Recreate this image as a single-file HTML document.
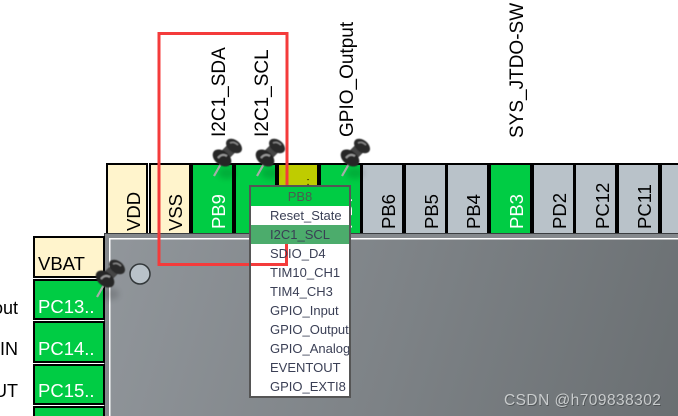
<!DOCTYPE html>
<html><head><meta charset="utf-8"><style>
html,body{margin:0;padding:0;background:#fff;width:678px;height:416px;overflow:hidden}
svg{display:block;font-family:"Liberation Sans",sans-serif}
</style></head><body>
<svg width="678" height="416" viewBox="0 0 678 416" xmlns="http://www.w3.org/2000/svg">
<defs>
<linearGradient id="chip" gradientUnits="userSpaceOnUse" x1="109" y1="238" x2="678" y2="416"><stop offset="0" stop-color="#91969b"/><stop offset="1" stop-color="#6a6f72"/></linearGradient>
<linearGradient id="pinb" x1="0" y1="0" x2="1" y2="1"><stop offset="0" stop-color="#1c1c1c"/><stop offset=".5" stop-color="#808080"/><stop offset="1" stop-color="#1a1a1a"/></linearGradient>
<filter id="b" x="-30%" y="-30%" width="160%" height="160%"><feGaussianBlur stdDeviation="0.6"/></filter>
<filter id="b2" x="-80%" y="-80%" width="260%" height="260%"><feGaussianBlur stdDeviation="3"/></filter>
<g id="pin">
<ellipse cx="13" cy="-3" rx="9" ry="6" fill="#000" opacity=".14" filter="url(#b2)"/>
<line x1="0" y1="0" x2="8" y2="-14" stroke="#a6aea8" stroke-width="2.200"/>
<g filter="url(#b)">
<line x1="9" y1="-19" x2="19" y2="-29" stroke="#444" stroke-width="11"/>
<ellipse cx="8" cy="-18" rx="10.500" ry="7" transform="rotate(38 8 -18)" fill="#262626"/>
<ellipse cx="20" cy="-30" rx="9" ry="6" transform="rotate(38 20 -30)" fill="#2b2b2b"/>
<path d="M4 -18 Q8 -23 13 -20" stroke="#9a9a9a" stroke-width="2" fill="none"/>
<path d="M16 -33 Q20 -35 24 -31" stroke="#8a8a8a" stroke-width="1.500" fill="none"/>
</g>
</g>
</defs>

<!-- top tiles -->
<g stroke="#000" stroke-width="2">
<rect x="107" y="164" width="40" height="72" fill="#fff4cc"/>
<rect x="150" y="164" width="40" height="72" fill="#fff4cc"/>
<rect x="192" y="164" width="41" height="72" fill="#00cc44"/>
<rect x="235" y="164" width="41" height="72" fill="#00cc44"/>
<rect x="278" y="164" width="40" height="72" fill="#bfcc00"/>
<rect x="320" y="164" width="41" height="72" fill="#00cc44"/>
<rect x="362" y="164" width="41" height="72" fill="#b9c2c9"/>
<rect x="405" y="164" width="41" height="72" fill="#b9c2c9"/>
<rect x="447" y="164" width="41" height="72" fill="#b9c2c9"/>
<rect x="490" y="164" width="41" height="72" fill="#00cc44"/>
<rect x="533" y="164" width="41" height="72" fill="#b9c2c9"/>
<rect x="575" y="164" width="41" height="72" fill="#b9c2c9"/>
<rect x="618" y="164" width="41" height="72" fill="#b9c2c9"/>
<path d="M678 164H661V236H678" fill="#b9c2c9"/>
</g>
<g font-size="18.500" fill="#000">
<text transform="translate(140,231) rotate(-90)">VDD</text>
<text transform="translate(182,231) rotate(-90)">VSS</text>
<text transform="translate(225,229) rotate(-90)" fill="#fff">PB9</text>
<text transform="translate(352,229) rotate(-90)" fill="#fff">PB7</text>
<text transform="translate(395,229) rotate(-90)">PB6</text>
<text transform="translate(438,229) rotate(-90)">PB5</text>
<text transform="translate(480,229) rotate(-90)">PB4</text>
<text transform="translate(523,229) rotate(-90)" fill="#fff">PB3</text>
<text transform="translate(566,229) rotate(-90)">PD2</text>
<text transform="translate(609,229) rotate(-90)">PC12</text>
<text transform="translate(651,229) rotate(-90)">PC11</text>
<text x="306.500" y="185" font-size="11">:</text>
</g>
<!-- upper labels -->
<g font-size="19" fill="#000">
<text transform="translate(225,137) rotate(-90)">I2C1_SDA</text>
<text transform="translate(268,137) rotate(-90)">I2C1_SCL</text>
<text transform="translate(353,137) rotate(-90)">GPIO_Output</text>
<text transform="translate(523,138) rotate(-90)">SYS_JTDO-SW</text>
</g>

<!-- chip -->
<rect x="104" y="233" width="574" height="183" fill="#3a3d40"/>
<rect x="105" y="234" width="573" height="182" fill="#85898d"/>
<rect x="109" y="238" width="569" height="178" fill="#fff"/>
<rect x="110.500" y="239.500" width="567.500" height="176.500" fill="url(#chip)"/>
<circle cx="140" cy="274" r="10" fill="#b9c2c9" stroke="#33383a" stroke-width="1.500"/>

<!-- left tiles -->
<g stroke="#000" stroke-width="2">
<rect x="34" y="237" width="70" height="40" fill="#fff4cc"/>
<rect x="34" y="280" width="70" height="39" fill="#00cc44"/>
<rect x="34" y="322" width="70" height="40" fill="#00cc44"/>
<rect x="34" y="365" width="70" height="39" fill="#00cc44"/>
<path d="M34 416V407H104V416" fill="#00cc44"/>
</g>
<g font-size="18.500">
<text x="38" y="270" fill="#000">VBAT</text>
<text x="38" y="313" fill="#fff">PC13..</text>
<text x="38" y="355" fill="#fff">PC14..</text>
<text x="38" y="397" fill="#fff">PC15..</text>
</g>
<g font-size="18" fill="#000" text-anchor="end">
<text x="18" y="314">out</text>
<text x="18" y="355">IN</text>
<text x="18" y="397">UT</text>
</g>

<!-- pins -->
<use href="#pin" x="214" y="176"/>
<use href="#pin" x="257" y="176"/>
<use href="#pin" x="342" y="176"/>
<use href="#pin" x="97" y="297"/>

<!-- red box -->
<rect x="159" y="33.500" width="128" height="231" fill="none" stroke="#f43b3b" stroke-width="3"/>

<!-- menu -->
<rect x="250" y="186" width="100" height="211" fill="#fff" stroke="#555" stroke-width="2"/>
<rect x="251" y="187" width="98" height="19" fill="#00cc44"/>
<rect x="251" y="225" width="98" height="19" fill="#4cac6c"/>
<rect x="285" y="244" width="3" height="22" fill="#f43b3b"/>
<rect x="251" y="263" width="37" height="3" fill="#f43b3b"/>
<svg x="251" y="187" width="98" height="209">
<g font-size="13" fill="#3a3f55">
<text x="49" y="14" text-anchor="middle" fill="#4b5b50">PB8</text>
<text x="19" y="33">Reset_State</text>
<text x="19" y="52">I2C1_SCL</text>
<text x="19" y="71">SDIO_D4</text>
<text x="19" y="90">TIM10_CH1</text>
<text x="19" y="109">TIM4_CH3</text>
<text x="19" y="128">GPIO_Input</text>
<text x="19" y="147">GPIO_Output</text>
<text x="19" y="166">GPIO_Analog</text>
<text x="19" y="185">EVENTOUT</text>
<text x="19" y="204">GPIO_EXTI8</text>
</g>
</svg>

<!-- watermark -->
<text x="504.800" y="405.800" font-size="15.500" fill="#3c4042" opacity=".6" letter-spacing=".45">CSDN @h709838302</text>
<text x="504" y="405" font-size="15.500" fill="#c9cccd" letter-spacing=".45">CSDN @h709838302</text>
</svg>
</body></html>
